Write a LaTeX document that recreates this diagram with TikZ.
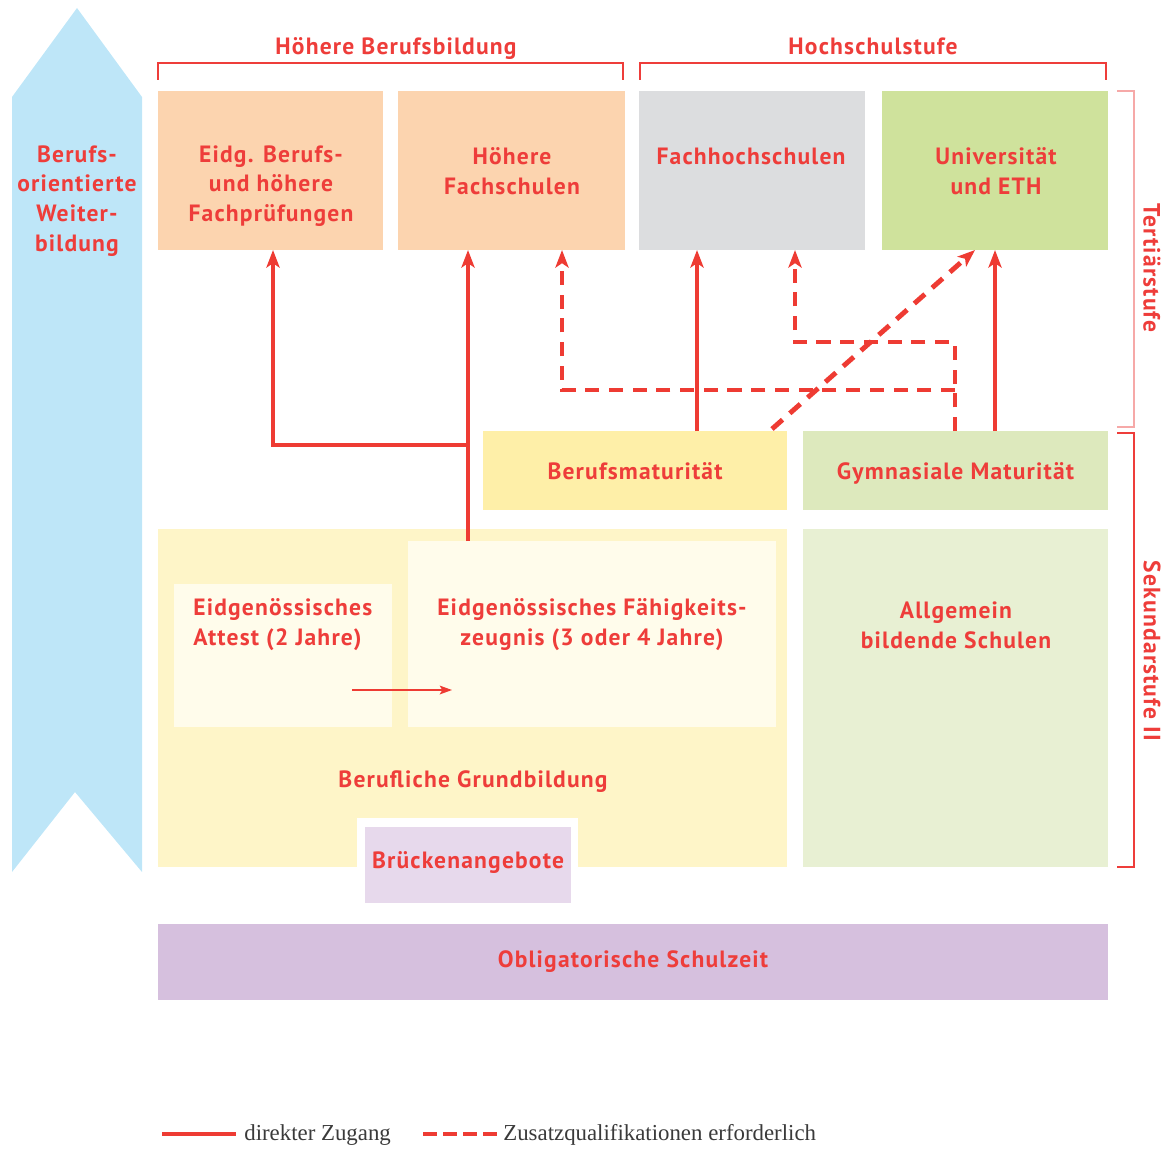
\documentclass[tikz,border=0pt]{standalone}
\usepackage{fontspec}
\setmainfont{PT Sans}[LetterSpace=5]
\newfontfamily\legfont{Liberation Serif}
\usetikzlibrary{arrows.meta,fit,calc}
\definecolor{tred}{HTML}{EE3D3A}
\definecolor{ared}{HTML}{EE3B33}
\definecolor{pinkbr}{HTML}{F6A9A8}
\definecolor{bluea}{HTML}{BEE6F8}
\definecolor{peach}{HTML}{FCD4AF}
\definecolor{grayb}{HTML}{DCDDDF}
\definecolor{greenb}{HTML}{CFE29C}
\definecolor{bmcol}{HTML}{FEEFA8}
\definecolor{gymcol}{HTML}{DDE9BD}
\definecolor{yelbig}{HTML}{FEF5C8}
\definecolor{inner}{HTML}{FFFCEB}
\definecolor{allg}{HTML}{E8F0D3}
\definecolor{oblig}{HTML}{D6C0DE}
\definecolor{brueck}{HTML}{E7D9EC}
\definecolor{legtext}{HTML}{3A3A3A}
\begin{document}
\begin{tikzpicture}[x=0.02cm,y=-0.02cm,
  box/.style={inner sep=0pt, outer sep=0pt, draw=none},
  lbl/.style={text=tred, font=\fontsize{13.4}{17}\selectfont\bfseries, align=center, inner sep=0pt},
  acc/.style={draw=ared, line width=2.8pt, line join=miter, -{Stealth[length=10pt,width=7.5pt,inset=2.5pt]}},
  dsh/.style={acc, dash pattern=on 8pt off 5.5pt},
  thinarr/.style={draw=ared, line width=0.9pt, -{Stealth[length=7pt,width=5pt,inset=1.5pt]}},
  brk/.style={draw=tred, line width=0.9pt},
  legtxt/.style={text=legtext, font=\legfont\fontsize{13}{15}\selectfont, anchor=west, inner sep=0pt}
]
\useasboundingbox (0,0) rectangle (1168,1149);

% blue arrow
\fill[bluea] (12,97) -- (77,8) -- (142,97) -- (142,872) -- (75,792) -- (12,872) -- cycle;
\node[lbl] (tw) at (77,201) {Berufs-\\orientierte\\Weiter-\\bildung};

% top brackets
\node[lbl, anchor=base] (thb) at (396,55) {Höhere Berufsbildung};
\node[lbl, anchor=base] (ths) at (873,55) {Hochschulstufe};
\draw[brk] (158,80) -- (158,63) -- (623,63) -- (623,80);
\draw[brk] (640,80) -- (640,63) -- (1106,63) -- (1106,80);

% top boxes
\node[box, fill=peach, fit={(158,91) (383,250)}] (b1) {};
\node[box, fill=peach, fit={(398,91) (625,250)}] (b2) {};
\node[box, fill=grayb, fit={(639,91) (865,250)}] (b3) {};
\node[box, fill=greenb, fit={(882,91) (1108,250)}] (b4) {};
\node[lbl] (t1) at (271,186) {Eidg. Berufs-\\und höhere\\Fachprüfungen};
\node[lbl] (t2) at (512,171) {Höhere\\Fachschulen};
\node[lbl] (t3) at (751,156) {Fachhochschulen};
\node[lbl] (t4) at (996,171) {Universität\\und ETH};

% right brackets
\draw[draw=pinkbr, line width=0.9pt] (1117,91) -- (1134,91) -- (1134,427) -- (1117,427);
\draw[brk] (1117,433) -- (1134,433) -- (1134,867) -- (1117,867);
\node[lbl, rotate=-90] (tt) at (1152,268) {Tertiärstufe};
\node[lbl, rotate=-90] (ts) at (1152,651) {Sekundarstufe II};

% maturity boxes
\node[box, fill=bmcol, fit={(483,431) (787,510)}] (bm) {};
\node[box, fill=gymcol, fit={(803,431) (1108,510)}] (gym) {};
\node[lbl, anchor=base] at ($(bm.center)+(0,9)$) {Berufsmaturität};
\node[lbl, anchor=base] at ($(gym.center)+(0,9)$) {Gymnasiale Maturität};

% Berufliche Grundbildung
\node[box, fill=yelbig, fit={(158,529) (787,867)}] (bg) {};
\node[box, fill=inner, fit={(174,584) (392,727)}] (att) {};
\node[box, fill=inner, fit={(408,541) (776,727)}] (efz) {};
\node[lbl, align=left, anchor=west] (tatt) at (193,625) {Eidgenössisches\\Attest (2 Jahre)};
\node[lbl] (tefz) at (592,625) {Eidgenössisches Fähigkeits-\\zeugnis (3 oder 4 Jahre)};
\node[lbl] (tbg) at (473,782) {Berufliche Grundbildung};
\coordinate (ta1) at (352,690);
\coordinate (ta2) at (452,690);
\draw[thinarr] (ta1) -- (ta2);

% Brückenangebote
\fill[white] (357,818) rectangle (578,910);
\node[box, fill=brueck, fit={(365,827) (571,903)}] (br) {};
\node[lbl] at ($(br.center)+(0,-3)$) {Brückenangebote};

% Allgemein bildende Schulen
\node[box, fill=allg, fit={(803,529) (1108,867)}] (ab) {};
\node[lbl] (tab) at (956,625) {Allgemein\\bildende Schulen};

% Obligatorische Schulzeit
\node[box, fill=oblig, fit={(158,924) (1108,1000)}] (os) {};
\node[lbl] at (os.center) {Obligatorische Schulzeit};

% connectors
\coordinate (c273) at (273,445);
\coordinate (c468) at (468,445);
\coordinate (c562) at (562,390);
\coordinate (c697) at (697,0);
\coordinate (c795) at (795,342);
\coordinate (c955) at (955,390);
\coordinate (c975) at (975,0);
\coordinate (c995) at (995,0);

\draw[acc] (efz.north -| c468) -- (b2.south -| c468);
\draw[acc] (c468) -| (b1.south -| c273);
\draw[acc] (bm.north -| c697) -- (b3.south -| c697);
\draw[acc] (gym.north -| c995) -- (b4.south -| c995);
\draw[dsh] (gym.north -| c955) |- (c795) -- (b3.south -| c795);
\draw[dsh] (c955) -| (b2.south -| c562);
\draw[dsh] ($(bm.north east)+(-15,-2)$) -- (b4.south -| c975);

% legend
\coordinate (l1a) at (162,1134);
\coordinate (l1b) at (236,1134);
\coordinate (l2a) at (423,1134);
\coordinate (l2b) at (497,1134);
\draw[draw=ared, line width=2.8pt] (l1a) -- (l1b);
\draw[draw=ared, line width=2.8pt, dash pattern=on 8pt off 3.4pt] (l2a) -- (l2b);
\node[legtxt] (lt1) at (244,1135) {direkter Zugang};
\node[legtxt] (lt2) at (503,1135) {Zusatzqualifikationen erforderlich};
\end{tikzpicture}
\end{document}
